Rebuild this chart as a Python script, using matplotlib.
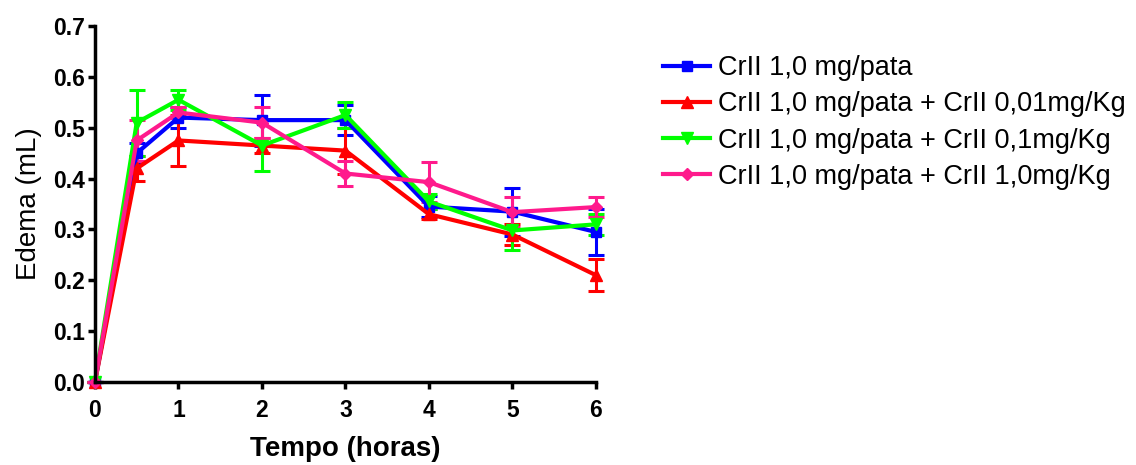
import matplotlib
matplotlib.use("Agg")
import matplotlib.pyplot as plt
import numpy as np

plt.rcParams['font.family'] = ['Liberation Sans', 'DejaVu Sans']

time = [0, 0.5, 1, 2, 3, 4, 5, 6]

labels = [
    "CrII 1,0 mg/pata",
    "CrII 1,0 mg/pata + CrII 0,01mg/Kg",
    "CrII 1,0 mg/pata + CrII 0,1mg/Kg",
    "CrII 1,0 mg/pata + CrII 1,0mg/Kg",
]

blue_mean = [0.0, 0.45, 0.52, 0.515, 0.515, 0.345, 0.335, 0.295]
blue_err = [0.0, 0.02, 0.02, 0.05, 0.03, 0.02, 0.047, 0.045]

red_mean = [0.0, 0.42, 0.475, 0.465, 0.455, 0.33, 0.29, 0.21]
red_err = [0.0, 0.025, 0.05, 0.015, 0.045, 0.01, 0.02, 0.032]

green_mean = [0.0, 0.51, 0.555, 0.465, 0.525, 0.355, 0.298, 0.31]
green_err = [0.0, 0.065, 0.02, 0.05, 0.025, 0.015, 0.038, 0.02]

pink_mean = [0.0, 0.475, 0.53, 0.51, 0.41, 0.393, 0.334, 0.344]
pink_err = [0.0, 0.04, 0.01, 0.03, 0.025, 0.04, 0.03, 0.02]

series = [
    (blue_mean, blue_err, "#0000FF", "s", 7),
    (red_mean, red_err, "#FF0000", "^", 8),
    (green_mean, green_err, "#00FF00", "v", 8),
    (pink_mean, pink_err, "#FF1A8C", "D", 6),
]

fig = plt.figure(figsize=(11.36, 4.65), dpi=100)
ax = fig.add_axes([0.0836, 0.1785, 0.4410, 0.7655])

handles = []
for (m, e, c, mk, ms), lab in zip(series, labels):
    h = ax.errorbar(time, m, yerr=e, color=c, marker=mk, markersize=ms,
                    linewidth=3, elinewidth=2.2, capsize=6, capthick=2.2,
                    label=lab, clip_on=False)
    h.lines[0].set_clip_on(False)
    for art in h.lines[1]:
        art.set_clip_on(False)
    for art in h.lines[2]:
        art.set_clip_on(False)
    handles.append(h)

ax.set_xlim(0, 6)
ax.set_ylim(0, 0.7)
ax.set_xticks([0, 1, 2, 3, 4, 5, 6])
yt = np.arange(0, 0.71, 0.1)
ax.set_yticks(yt)
ax.set_yticklabels([f"{v:.1f}" for v in yt])

for s in ['top', 'right']:
    ax.spines[s].set_visible(False)
for s in ['left', 'bottom']:
    ax.spines[s].set_linewidth(2.5)

ax.tick_params(axis='both', direction='out', length=5, width=2.5,
               labelsize=16.5)
ax.tick_params(axis='x', pad=7)
ax.tick_params(axis='y', pad=2)
for lbl in ax.get_xticklabels() + ax.get_yticklabels():
    lbl.set_fontweight('bold')

ax.set_xlabel("Tempo (horas)", fontsize=20, fontweight='bold', labelpad=10)
ax.set_ylabel("Edema (mL)", fontsize=20, labelpad=8)

leg_handles = [h.lines[0] for h in handles]
fig.legend(leg_handles, labels, loc='upper left',
           bbox_to_anchor=(0.574, 0.905), frameon=False, fontsize=19.5,
           handlelength=1.75, handletextpad=0.3, labelspacing=0.38,
           borderaxespad=0)

fig.savefig("out.png", dpi=100)
